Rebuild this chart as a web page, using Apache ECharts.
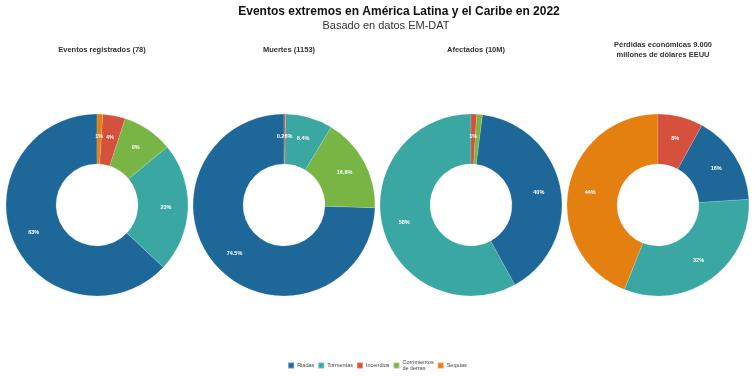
<!DOCTYPE html>
<html>
<head>
<meta charset="utf-8">
<script src="https://cdn.jsdelivr.net/npm/echarts@6/dist/echarts.min.js"></script>
<style>
  html, body { margin: 0; padding: 0; background: #fff; }
  #main { width: 754px; height: 376px; }
</style>
</head>
<body>
<div id="main"></div>
<script>
// data (percent shares), sorted descending like the original
var categories = ['Riadas', 'Tormentas', 'Incendios', 'Corrimientos de tierras', 'Sequías'];
var colors = {
  'Riadas': '#1d6899',
  'Tormentas': '#3aa7a3',
  'Incendios': '#d5503d',
  'Corrimientos de tierras': '#78b545',
  'Sequías': '#e3800f'
};

var panelTitles = [
  'Eventos registrados (78)',
  'Muertes (1153)',
  'Afectados (10M)',
  'Pérdidas económicas 9.000\nmillones de dólares EEUU'
];

var eventosNames = ['Riadas', 'Tormentas', 'Corrimientos de tierras', 'Incendios', 'Sequías'];
var eventosValues = [63, 23, 9, 4, 1];

var muertesNames = ['Riadas', 'Corrimientos de tierras', 'Tormentas', 'Incendios'];
var muertesValues = [74.5, 16.8, 8.4, 0.26];

var afectadosNames = ['Tormentas', 'Riadas', 'Corrimientos de tierras', 'Incendios'];
var afectadosValues = [58, 40, 1, 1];

var perdidasNames = ['Sequías', 'Tormentas', 'Riadas', 'Incendios'];
var perdidasValues = [44, 32, 16, 8];

var myChart = echarts.init(document.getElementById('main'));

var centersX = [97, 284, 471, 658];
var panels = [
  [eventosNames, eventosValues],
  [muertesNames, muertesValues],
  [afectadosNames, afectadosValues],
  [perdidasNames, perdidasValues]
];

function makeData(names, values, hideIdx) {
  return names.map(function (n, i) {
    var d = { name: n, value: values[i], itemStyle: { color: colors[n] } };
    if (hideIdx && hideIdx.indexOf(i) >= 0) d.label = { show: false };
    return d;
  });
}

var series = panels.map(function (p, k) {
  return {
    type: 'pie',
    center: [centersX[k], 205],
    radius: [41, 91],
    startAngle: 90,
    clockwise: false,
    avoidLabelOverlap: false,
    emphasis: { disabled: true },
    label: {
      show: true,
      position: 'inside',
      formatter: '{c}%',
      color: '#fff',
      fontSize: 5.5,
      fontWeight: 'bold',
      fontFamily: 'Liberation Sans, Arial, sans-serif'
    },
    labelLine: { show: false },
    itemStyle: { borderColor: 'rgba(255,255,255,0.3)', borderWidth: 0.5 },
    data: makeData(p[0], p[1], k === 2 ? [2] : null)
  };
});

var titles = [{
  text: 'Eventos extremos en América Latina y el Caribe en 2022',
  left: 399, top: 6, padding: 0,
  textAlign: 'center',
  textStyle: { fontSize: 12, fontWeight: 'bold', color: '#111', fontFamily: 'Liberation Sans, Arial, sans-serif' }
}, {
  text: 'Basado en datos EM-DAT',
  left: 386, top: 20, padding: 0,
  textAlign: 'center',
  textStyle: { fontSize: 11, fontWeight: 'normal', color: '#333', fontFamily: 'Liberation Sans, Arial, sans-serif' }
}];
panelTitles.forEach(function (t, k) {
  titles.push({
    text: t,
    left: centersX[k],
    top: k === 3 ? 35 : 40,
    textAlign: 'center',
    textStyle: {
      fontSize: 7.5, fontWeight: 'bold', color: '#333', lineHeight: 10,
      fontFamily: 'Liberation Sans Narrow, Liberation Sans, Arial, sans-serif'
    }
  });
});

var option = {
  backgroundColor: '#fff',
  animation: false,
  title: titles,
  legend: {
    data: categories,
    top: 354,
    left: 'center',
    itemWidth: 6,
    itemHeight: 6,
    itemGap: 3,
    icon: 'rect',
    formatter: function (name) {
      return name === 'Corrimientos de tierras' ? 'Corrimientos\nde tierras' : name;
    },
    textStyle: { fontSize: 5.5, color: '#444', lineHeight: 6.5, padding: [0, 0, 0, -2], fontFamily: 'Liberation Sans, Arial, sans-serif' }
  },
  series: series
};

myChart.setOption(option);
</script>
</body>
</html>
